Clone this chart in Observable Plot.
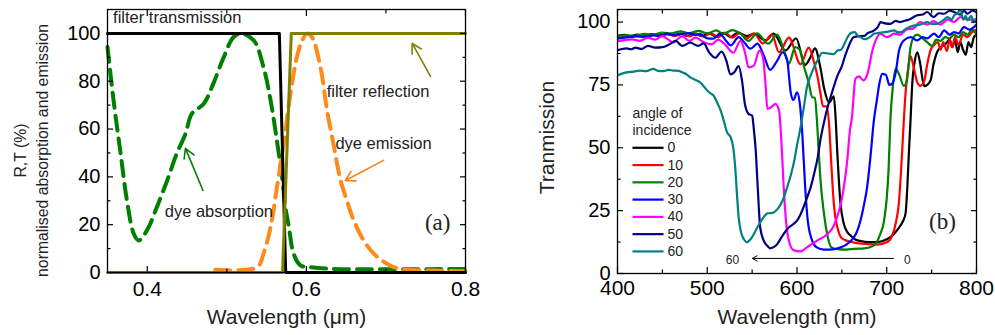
<!DOCTYPE html>
<html><head><meta charset="utf-8">
<script src="https://cdn.jsdelivr.net/npm/d3@7"></script>
<script src="https://cdn.jsdelivr.net/npm/@observablehq/plot@0.6"></script>
<style>
html,body{margin:0;padding:0;background:#fff;}
#wrap{position:relative;width:995px;height:335px;display:flex;overflow:hidden;}
#wrap svg{display:block;}
</style></head><body><div id="wrap"></div>
<script>
// ---------- Panel (a) data ----------
const filterTransmission = [[0.35,100],[0.566,100],[0.574,0],[0.8,0]];
const filterReflection = [[0.35,0],[0.570,0],[0.581,100],[0.8,100]];
const dyeAbsorption = [[0.35,94.3],[0.3576,72],[0.366,51],[0.3745,30],[0.383,16.2],[0.389,13.4],[0.3996,17.6],[0.412,27.3],[0.425,38.5],[0.437,49.7],[0.448,58],[0.456,66.4],[0.471,70.6],[0.483,79],[0.496,90],[0.5086,98.5],[0.519,99.9],[0.534,97],[0.546,86],[0.555,72],[0.563,55],[0.5694,40],[0.5736,27.3],[0.578,19],[0.584,7.8],[0.5925,3],[0.605,2.2],[0.634,1.5],[0.8,1.5]];
const dyeEmission = [[0.4855,1.1],[0.538,2.2],[0.546,7.8],[0.555,19],[0.563,35.7],[0.5715,53.8],[0.58,74.8],[0.588,90],[0.5946,97],[0.601,99.9],[0.607,98.5],[0.6176,86],[0.626,67.8],[0.634,53.8],[0.643,38.5],[0.651,30],[0.6595,21.8],[0.672,13.4],[0.685,7.8],[0.7015,3.6],[0.718,1.5],[0.76,0.8],[0.8,0.5]];
const xTicksA = [0.4,0.6,0.8];
const xMinorA = [0.5,0.7];
const yTicksA = [0,20,40,60,80,100];
const yMinorA = [10,30,50,70,90];
const labelsA = ["filter transmission","filter reflection","dye emission","dye absorption","(a)"];

// ---------- Panel (b) data ----------
const angles = ["0","10","20","30","40","50","60"];
const t0 = [[400,94.5],[408,94.9],[415,94.4],[422,95],[430,94.6],[438,95.2],[446,94.6],[454,95.3],[462,94.7],[470,95.4],[478,94.5],[486,95.5],[494,94.4],[502,95.6],[510,94.2],[518,95.7],[526,94],[534,95.8],[544,94.5],[552,95.3],[565,92.7],[574,95.4],[587,88.7],[599,93.5],[609,83],[615,86],[620,89.5],[626,82],[630,74],[636,68],[641,70.5],[643,62],[645,47.5],[648.5,27.7],[652,20],[656,16.5],[660,15],[665,13.5],[670,13],[680,12.5],[690,12.5],[700,13.6],[706,15],[711,17],[716,19.5],[719,21.5],[721,24],[723,35],[724.6,47.5],[726.5,61],[728.5,76],[731,84],[734,88],[737,84],[740,77],[742,74.5],[745,75],[749,77],[752,83],[756,88],[760,90],[765,91],[770,93],[773,90],[776,93],[779,88],[782,92],[785,89],[788,87],[791,92],[794,90],[797,94],[800,95]];
const t10 = [[400,94],[408,94.6],[416,94.1],[424,94.8],[432,94.3],[440,95],[448,94.4],[456,95.2],[464,94.5],[472,95.3],[480,94.3],[488,95.4],[496,94.2],[504,95.6],[512,94],[520,95.8],[528,93.8],[536,95.6],[544,93.5],[552,95.5],[562,91.5],[572,95],[580,88],[591,93.8],[604,83.2],[613,89.8],[619,84],[623,78],[626,72],[629,66.5],[633,66.5],[636,58],[638,45],[641,28],[646,17],[650,14],[656,13],[665,12.2],[675,11.8],[690,11.5],[700,12.4],[706,15],[710,20],[713.4,27.7],[717,47.5],[719,60.7],[721,72],[724,82],[726.5,86.5],[730,82],[734,76],[737.6,74.6],[742,77],[745,83],[749,89],[753,91],[757,92],[760,89],[763,92],[767,88.5],[770,93],[773,90],[776,94],[780,91],[785,95],[790,94],[795,96],[800,97]];
const t20 = [[400,94.3],[410,94.7],[420,94.5],[430,95.3],[440,95],[450,95.8],[460,95.5],[470,96.3],[480,95.6],[490,96.5],[500,95.5],[510,96.7],[518,95.3],[528,96.8],[537,95.4],[546,92.5],[555.5,95.5],[568,91.4],[578,95],[586,88],[591,83.5],[598,90],[603,89],[608,82],[613,76],[617,70],[620,70],[622,62],[624,50],[626,38],[630,24],[634,15],[638,10.5],[645,9.7],[655,9.5],[663,9.8],[675,10],[685,11],[692,15],[697,21],[700,30],[702,41],[704,60.7],[707,75],[710,81.5],[714,79],[719,74.6],[722,76],[726.5,90],[730,94],[734,95],[740,93.5],[745,92],[750.6,90.5],[755,93],[760,92.5],[765,94],[770,93.5],[775,95],[780,94],[785,96],[790,95],[795,97],[800,95]];
const t30 = [[400,93.4],[410,93.9],[420,94.3],[430,94.1],[440,94.7],[448,94.4],[455,95.4],[462,94.8],[470,95.2],[480,95.6],[487,94.8],[492,95.3],[500,93.5],[507,93.4],[514,95.4],[520,93],[526,90.7],[535,94],[541,92],[548,89.4],[556,91.4],[563,86.7],[570,81],[578,84.7],[584,88],[589,85],[593,72],[596,69],[600,72],[603,68],[606,55],[609,35],[612,21],[617,13],[622,10.4],[630,9.5],[640,9.6],[648.5,10.4],[655,11.5],[660,13],[666,16],[670.7,21],[675,28],[678,34],[682,47],[685.6,60.7],[689,69],[692,76],[695,79.4],[699,79],[703,75],[706,75.5],[710,80],[713.7,88.7],[719,92.7],[726.7,94],[734,92.7],[740,94],[745,93.5],[752.7,95.4],[758,94],[764,96.7],[770,95],[775,96],[780,95.5],[786,98],[792,97],[800,99]];
const t40 = [[400,92.4],[408,92.8],[416,93.1],[425,92.5],[434,93.8],[442,93],[450,94.4],[456,93.2],[462,91.8],[467,93.2],[472,94.4],[480,92.5],[487,93.8],[496,92],[505,91.2],[512,93],[520,91],[529,87.8],[537,92.5],[542,88],[546,82],[552,82.7],[558,88.7],[562,86],[565,75],[567,65.5],[571,66],[576,67.5],[580,64.8],[583,50],[585,35.6],[588,20],[591,13],[596,9.3],[604,8.8],[611,10.4],[622,13],[634,15.7],[641,19],[646,24],[649,28],[652,34],[656,45],[659,57],[661.5,63],[663,70],[665,77.4],[669,78.4],[674,76.8],[679,80],[684,88.7],[688,93],[693,95.4],[700,94],[704,94.5],[708,95.4],[715,95],[722,97],[730,97.5],[737,100],[745,99],[752,100.4],[760,99],[768,101],[775,100],[782,102],[790,101],[800,101]];
const t50 = [[400,88.8],[405,89.3],[410,89.5],[415,89.2],[420,89.8],[427,89.3],[434,90.5],[442,89.8],[450,90],[457,91],[465,92.5],[472,90.5],[481,91.8],[490,90.5],[496,91.5],[502,88],[509,85.8],[516,88.3],[521,85],[526,79.2],[530,80],[535,82.5],[539,76],[542,67.3],[546,63.5],[550,62.8],[552,57],[554,49],[556,36],[559,18.3],[563,13],[567,11],[570,10],[574,10.5],[578,11.7],[582,14],[585,15.7],[590,18],[596,19.7],[600,21],[604,23.6],[611,30],[615,34],[619,39.6],[623,46],[626,53],[630,60],[634,66],[639,72],[645,78.6],[650,82.5],[654,87],[657.7,90.5],[663,94],[669,94.4],[675,94.5],[678,95.4],[686,96.7],[690,98],[693,100],[698,99.5],[704,99.3],[710,100.5],[715,100],[720,100.5],[725,101],[734,102.7],[740,103],[745,104],[752,102],[758,103.5],[764,103.3],[770,104.5],[775,104],[782,103],[786,104.5],[790,103.3],[795,104.5],[800,104]];
const t60 = [[400,78.8],[405,79.5],[410,80],[418,80.3],[425,80.7],[432,80.5],[440,81.4],[445,80.6],[451,80.5],[457,81],[462,80.7],[468,80.6],[472,80],[477,79.2],[481,78],[487,77],[492,76],[496,74.5],[500,72.8],[504,71.5],[507,70.8],[511,68],[515,64.8],[519,60],[522,56.2],[526,54.2],[529,50],[531,43],[533,32],[535,22.3],[538,16],[541,13.5],[544,12.4],[548,13.5],[552,15.7],[556,18.5],[559,20.3],[563,22.5],[567,23.9],[570,24],[574,24.3],[578,25.5],[582,27.6],[586,31],[589,34.3],[593,39],[597,45],[600,51],[604,58.2],[608,67],[611,74],[615,78.6],[619,82],[624,85.5],[628,87.8],[633,87.6],[637,87.4],[641,87.2],[645,88.7],[649,89],[653,91.5],[657,94.4],[661,95.8],[664,96],[668,94.5],[671,94],[675,93.2],[678,93.4],[682,94.2],[686,95.4],[690,95.6],[697,96],[703,96.3],[708,96.7],[712,96],[716,96],[722,97.5],[730,98.6],[737,99],[745,100],[750,99.3],[756,99.3],[762,100.5],[768,102],[772,101],[776,103],[779,103.3],[782,105.5],[785,101],[788,102.5],[790,100.7],[794,102.5],[797,100],[800,101.3]];
const seriesB = [t0,t10,t20,t30,t40,t50,t60];
const xTicksB = [400,500,600,700,800];
const xMinorB = [450,550,650,750];
const yTicksB = [0,25,50,75,100];
const yMinorB = [12.5,37.5,62.5,87.5];
const legendTitleB = ["angle of","incidence"];
const arrowLabelsB = ["60","0"];

// ---------- styles ----------
const SANS = "'Liberation Sans', Arial, Helvetica, sans-serif";
const SERIF = "'Liberation Serif', 'Times New Roman', serif";
const colorsB = ["#000000","#ff0000","#008000","#0000ff","#ff00ff","#000080","#008080"];
const X = d => d[0], Y = d => d[1];

function frameAxes(xT, xM, yT, yM, xFmt, fsx, fsy, padx, pady) {
  const blank = () => "";
  return [
    Plot.axisX({anchor:"bottom", ticks:xT, tickFormat:xFmt, tickSize:-6, tickPadding:padx, fontSize:fsx, label:null, strokeWidth:1.2}),
    Plot.axisX({anchor:"bottom", ticks:xM, tickFormat:blank, tickSize:-3.5, label:null, strokeWidth:1.2}),
    Plot.axisX({anchor:"top", ticks:xT, tickFormat:blank, tickSize:-6, label:null, strokeWidth:1.2}),
    Plot.axisX({anchor:"top", ticks:xM, tickFormat:blank, tickSize:-3.5, label:null, strokeWidth:1.2}),
    Plot.axisY({anchor:"left", ticks:yT, tickFormat:d=>String(d), tickSize:-6, tickPadding:pady, fontSize:fsy, label:null, strokeWidth:1.2}),
    Plot.axisY({anchor:"left", ticks:yM, tickFormat:blank, tickSize:-3.5, label:null, strokeWidth:1.2}),
    Plot.axisY({anchor:"right", ticks:yT, tickFormat:blank, tickSize:-6, label:null, strokeWidth:1.2}),
    Plot.axisY({anchor:"right", ticks:yM, tickFormat:blank, tickSize:-3.5, label:null, strokeWidth:1.2}),
    Plot.frame({stroke:"#000", strokeWidth:1.3})
  ];
}

// ---------- Panel (a) ----------
const annA = [
  {t:labelsA[1], x:0.690, y:75.7},
  {t:labelsA[2], x:0.697, y:54},
  {t:labelsA[3], x:0.490, y:25.5}
];
const arrowsA = [
  {x1:0.470, y1:34.3, x2:0.448, y2:51.9, c:"#008000"},
  {x1:0.697, y1:46.9, x2:0.649, y2:38.5, c:"#ff7f0e"},
  {x1:0.756, y1:82, x2:0.733, y2:95.8, c:"#808000"}
];
const plotA = Plot.plot({
  width:500, height:335,
  marginLeft:107, marginRight:35, marginTop:9, marginBottom:63,
  style:{fontFamily:SANS, background:"#fff", color:"#000", overflow:"visible"},
  x:{domain:[0.35,0.8]},
  y:{domain:[0,110]},
  marks:[
    Plot.line(dyeAbsorption, {x:X, y:Y, stroke:"#008000", strokeWidth:4, strokeDasharray:"15,8", curve:"catmull-rom"}),
    Plot.line(dyeEmission, {x:X, y:Y, stroke:"#ff8a1c", strokeWidth:4, strokeDasharray:"15,8", curve:"catmull-rom"}),
    Plot.line(filterTransmission, {x:X, y:Y, stroke:"#000", strokeWidth:3}),
    Plot.line(filterReflection, {x:X, y:Y, stroke:"#808000", strokeWidth:3}),
    ...arrowsA.map(a => Plot.arrow([a], {x1:"x1", y1:"y1", x2:"x2", y2:"y2", stroke:a.c, strokeWidth:1.6, headLength:10})),
    Plot.text([labelsA[0]], {x:()=>0.357, y:()=>106.5, text:d=>d, textAnchor:"start", fontSize:16.5, fill:"#222"}),
    Plot.text(annA, {x:"x", y:"y", text:"t", textAnchor:"middle", fontSize:16.5, fill:"#222"}),
    Plot.text([labelsA[4]], {x:()=>0.765, y:()=>21, text:d=>d, fontSize:23, fontFamily:SERIF, fill:"#222"}),
    ...frameAxes(xTicksA, xMinorA, yTicksA, yMinorA, d3.format(".1f"), 21, 20, 15, 13),
    Plot.text(["Wavelength (\u03bcm)"], {frameAnchor:"bottom", dy:51, text:d=>d, fontSize:21, fill:"#222"}),
    Plot.text(["R,T (%)"], {frameAnchor:"left", dx:-87, dy:9.5, rotate:-90, textAnchor:"middle", text:d=>d, fontSize:15.8, fill:"#222"}),
    Plot.text(["normalised absorption and emission"], {frameAnchor:"left", dx:-65, dy:9.5, rotate:-90, textAnchor:"middle", text:d=>d, fontSize:15.8, fill:"#222"})
  ]
});

// ---------- Panel (b) ----------
const legendRows = angles.map((a,i) => ({a, i, y:50 - i*6.87}));
const plotB = Plot.plot({
  width:495, height:335,
  marginLeft:117, marginRight:19, marginTop:9, marginBottom:62,
  style:{fontFamily:SANS, background:"#fff", color:"#000", overflow:"visible"},
  x:{domain:[400,800]},
  y:{domain:[0,105]},
  marks:[
    ...seriesB.map((s,i) => Plot.line(s, {x:X, y:Y, stroke:colorsB[i], strokeWidth:2.2, curve:"monotone-x", clip:true})),
    ...legendRows.map(r => Plot.link([r], {x1:()=>416.7, x2:()=>451.3, y1:"y", y2:"y", stroke:colorsB[r.i], strokeWidth:2.2})),
    Plot.text(legendRows, {x:()=>455.7, y:"y", text:"a", textAnchor:"start", fontSize:14, fill:"#222"}),
    Plot.text(legendTitleB, {x:()=>416.7, y:(d,i)=>63.5 - i*6.8, text:d=>d, textAnchor:"start", fontSize:14, fill:"#222"}),
    Plot.arrow([{x1:707.5, x2:550.4, y:6}], {x1:"x1", x2:"x2", y1:"y", y2:"y", stroke:"#000", strokeWidth:1, headLength:8}),
    Plot.text([{t:arrowLabelsB[0], x:528}, {t:arrowLabelsB[1], x:723}], {x:"x", y:()=>5.5, text:"t", fontSize:12, fill:"#222"}),
    Plot.text(["(b)"], {x:()=>762, y:()=>20.6, text:d=>d, fontSize:23, fontFamily:SERIF, fill:"#222"}),
    ...frameAxes(xTicksB, xMinorB, yTicksB, yMinorB, d=>String(d), 21, 20, 13, 13),
    Plot.text(["Wavelength (nm)"], {frameAnchor:"bottom", dy:50, text:d=>d, fontSize:21, fill:"#222"}),
    Plot.text(["Tranmission"], {frameAnchor:"left", dx:-70, dy:-4, rotate:-90, textAnchor:"middle", text:d=>d, fontSize:21, fill:"#222"})
  ]
});

const wrap = document.getElementById("wrap");
wrap.appendChild(plotA);
wrap.appendChild(plotB);
</script></body></html>
